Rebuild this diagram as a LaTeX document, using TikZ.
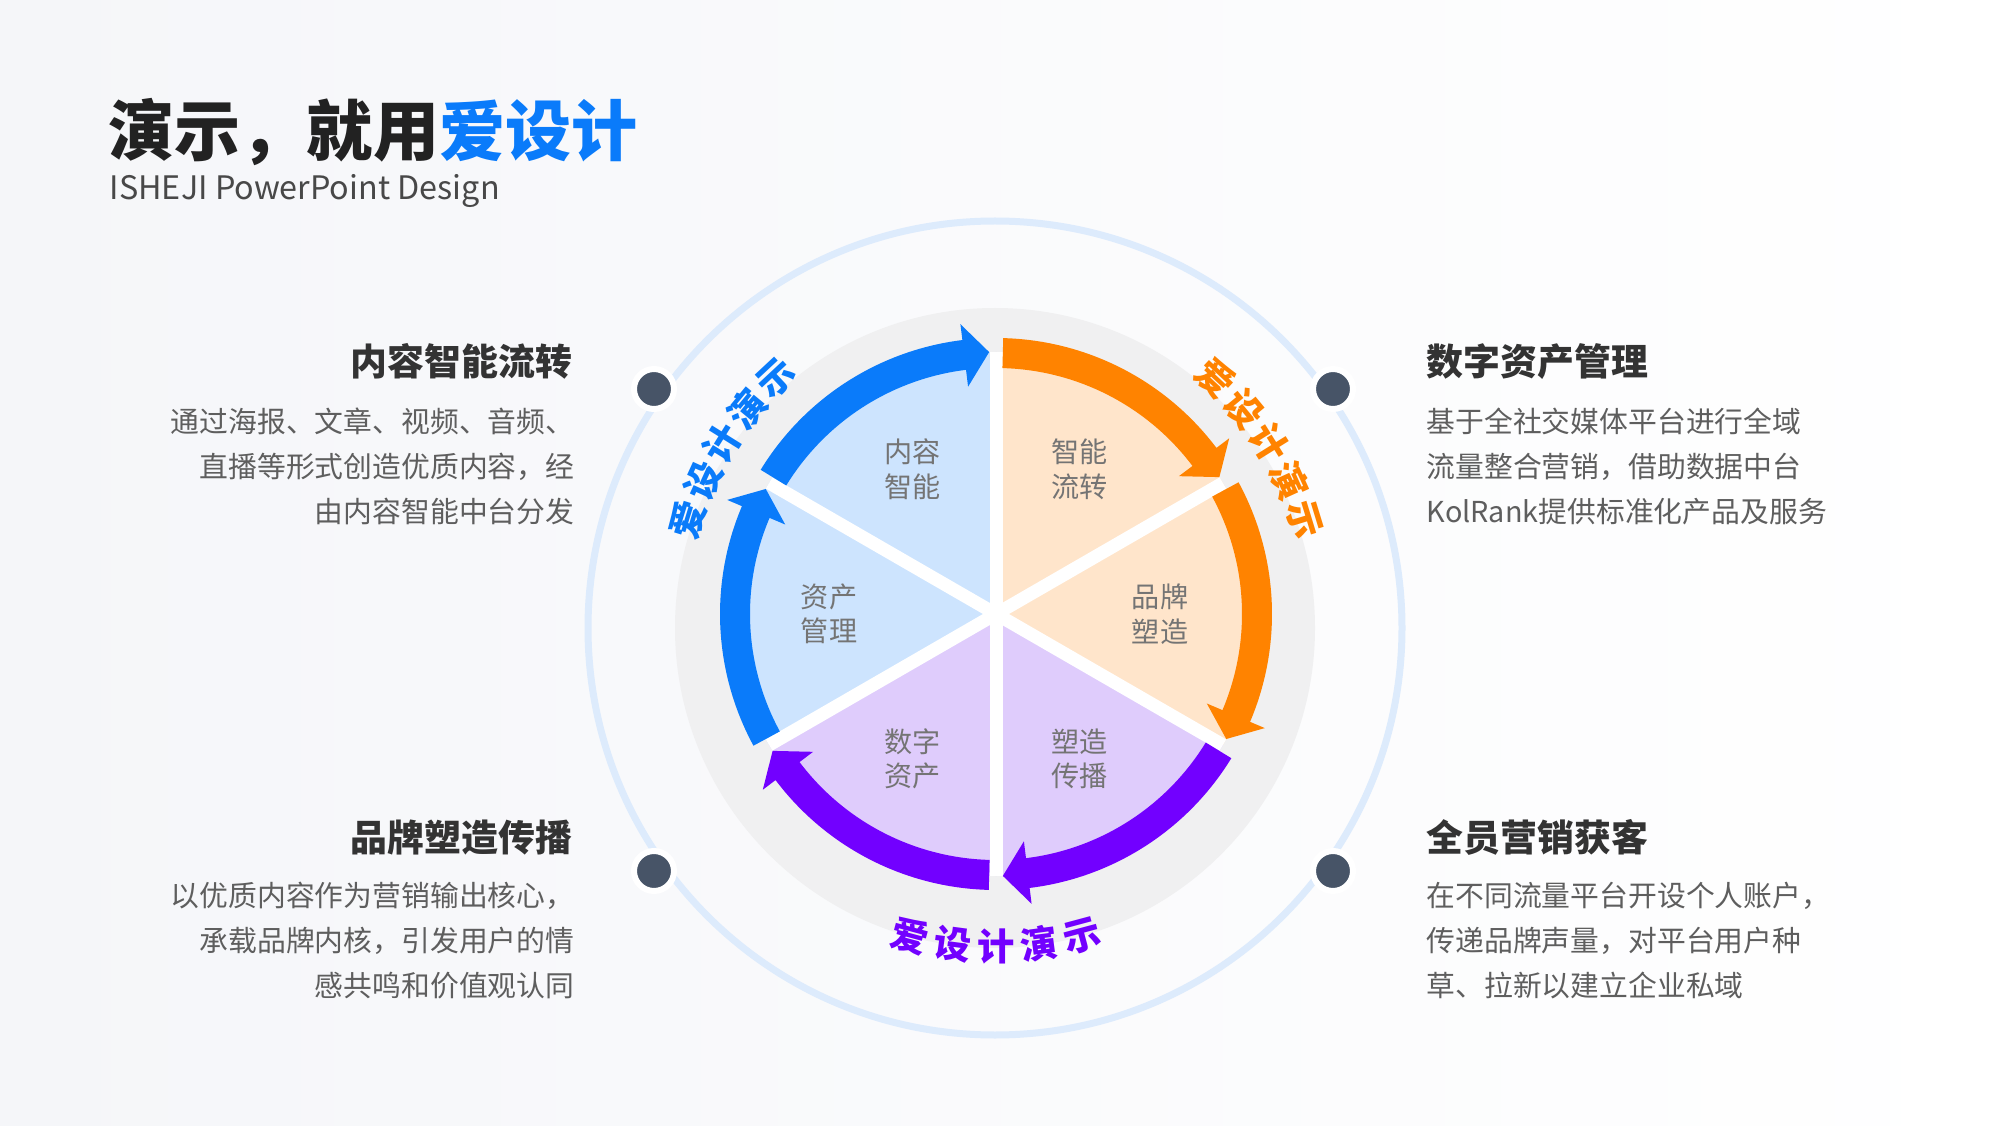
\documentclass[tikz,border=0pt]{standalone}
\usepackage{fontspec}
\newfontfamily\cjk{Noto Sans CJK SC}
\usetikzlibrary{calc,positioning}
\definecolor{arrblue}{HTML}{0A7BFA}
\definecolor{arrorange}{HTML}{FF8300}
\definecolor{arrpurple}{HTML}{7200FF}
\definecolor{wedgeblue}{HTML}{CDE4FE}
\definecolor{wedgeorange}{HTML}{FFE5CB}
\definecolor{wedgepurple}{HTML}{DFCCFC}
\definecolor{ringblue}{HTML}{DDEBFC}
\definecolor{diskgray}{HTML}{F0F0F1}
\definecolor{dotgray}{HTML}{475467}
\definecolor{titleblack}{HTML}{222222}
\definecolor{headgray}{HTML}{333333}
\definecolor{subgray}{HTML}{484848}
\definecolor{bodygray}{HTML}{5E5E5E}
\definecolor{labelgray}{HTML}{747474}
\definecolor{bgleft}{HTML}{F5F6F9}
\tikzset{
  heading/.style={font=\cjk\bfseries\fontsize{10.5}{12}\selectfont, text=headgray, inner sep=0pt},
  body/.style={font=\cjk\fontsize{8.2}{12.8}\selectfont, text=bodygray, inner sep=0pt},
  sectorlabel/.style={font=\cjk\fontsize{8}{9.8}\selectfont, text=labelgray, align=center, inner sep=0pt},
  arctext/.style={font=\cjk\bfseries\fontsize{10.6}{10.6}\selectfont, inner sep=0pt},
  dot/.style={circle, fill=dotgray, draw=white, line width=0.06cm, minimum size=0.40cm, inner sep=0pt}
}
\begin{document}
\begin{tikzpicture}[line join=round, line cap=round]
	\def \rin{2.46} %bán kính trong
	\def \rout{2.76} %bán kính ngoài
	\def \rmid{2.62}
	\def \win{2.29}
	\def \wout{2.92}
	\useasboundingbox (0,0) rectangle (20,11.25);
	\shade[left color=bgleft, right color=white] (0,0) rectangle (20,11.25);
	\coordinate (O) at (9.96,5.11); % pie center
	\coordinate (G) at (9.95,4.97); % disk center
	\draw[ringblue, line width=0.07cm] (G) circle (4.07);
	\fill[diskgray] (G) circle (3.20);
	% wedges
	\foreach \a/\c in {90/wedgeblue,150/wedgeblue,30/wedgeorange,-30/wedgeorange,210/wedgepurple,270/wedgepurple}
		\fill[\c, shift={(O)}] (0,0) -- (\a:\rmid) arc[start angle=\a, end angle=\a+60, radius=\rmid] -- cycle;
	\foreach \a in {90,30,-30}
		\draw[white, line width=0.13cm, line cap=butt, shift={(O)}] (\a:\rmid) -- (\a+180:\rmid);
	% arrows
	\foreach \a/\c in {150/arrblue,90/arrorange,30/arrorange,-30/arrpurple,-90/arrpurple,210/arrblue}
		\fill[\c, shift={(O)}] (\a-1.5:\rout) arc[start angle=\a-1.5, end angle=\a-53, radius=\rout]
			-- (\a-53:\wout) -- (\a-58.5:\rmid) -- (\a-53:\win) -- (\a-53:\rin)
			arc[start angle=\a-53, end angle=\a-1.5, radius=\rin] -- cycle;
	% sector labels
	\node[sectorlabel] (s1) at ($(O)+(120:1.67)$) {内容\\智能};
	\node[sectorlabel] (s2) at ($(O)+(60:1.67)$) {智能\\流转};
	\node[sectorlabel] (s3) at ($(O)+(180:1.67)$) {资产\\管理};
	\node[sectorlabel] (s4) at ($(O)+(0:1.64)$) {品牌\\塑造};
	\node[sectorlabel] (s5) at ($(O)+(240:1.67)$) {数字\\资产};
	\node[sectorlabel] (s6) at ($(O)+(300:1.67)$) {塑造\\传播};
	% curved texts
	\foreach \ch [count=\i] in {爱,设,计,演,示} {
		\pgfmathsetmacro\ang{163-7.5*(\i-1)}
		\node[arctext, text=arrblue, rotate=\ang-90] (bt\i) at ($(O)+(\ang:3.22)$) {\ch};
		\pgfmathsetmacro\ang{47-7.5*(\i-1)}
		\node[arctext, text=arrorange, rotate=\ang-90] (ot\i) at ($(O)+(\ang:3.22)$) {\ch};
		\pgfmathsetmacro\ang{255+7.5*(\i-1)}
		\node[arctext, text=arrpurple, rotate=\ang+90] (pt\i) at ($(O)+(\ang:3.33)$) {\ch};
	}
	% dots
	\node[dot] (d1) at (6.54,7.36) {};
	\node[dot] (d2) at (13.33,7.36) {};
	\node[dot] (d3) at (6.54,2.54) {};
	\node[dot] (d4) at (13.33,2.54) {};
	% title
	\node[anchor=base west, inner sep=0pt, font=\cjk\bfseries\fontsize{18.8}{20}\selectfont, text=titleblack] (title) at (1.08,9.69) {演示，就用\textcolor{arrblue}{爱设计}};
	\node[anchor=base west, inner sep=0pt, font=\cjk\fontsize{9.2}{11}\selectfont, text=subgray] (subtitle) at (1.09,9.25) {ISHEJI PowerPoint Design};
	% text blocks
	\node[heading, anchor=base east] (h1) at (5.73,7.49) {内容智能流转};
	\foreach \ln [count=\k] in {通过海报、文章、视频、音频、,直播等形式创造优质内容，经,由内容智能中台分发}
		\node[body, anchor=base east] (tl\k) at (5.75,{6.93-0.45*(\k-1)}) {\ln};
	\node[heading, anchor=base west] (h2) at (14.26,7.49) {数字资产管理};
	\foreach \ln [count=\k] in {基于全社交媒体平台进行全域,流量整合营销，借助数据中台,KolRank提供标准化产品及服务}
		\node[body, anchor=base west] (tr\k) at (14.26,{6.93-0.45*(\k-1)}) {\ln};
	\node[heading, anchor=base east] (h3) at (5.73,2.74) {品牌塑造传播};
	\foreach \ln [count=\k] in {以优质内容作为营销输出核心，,承载品牌内核，引发用户的情,感共鸣和价值观认同}
		\node[body, anchor=base east] (bl\k) at (5.75,{2.19-0.45*(\k-1)}) {\ln};
	\node[heading, anchor=base west] (h4) at (14.26,2.74) {全员营销获客};
	\foreach \ln [count=\k] in {在不同流量平台开设个人账户，,传递品牌声量，对平台用户种,草、拉新以建立企业私域}
		\node[body, anchor=base west] (br\k) at (14.26,{2.19-0.45*(\k-1)}) {\ln};
\end{tikzpicture}
\end{document}
